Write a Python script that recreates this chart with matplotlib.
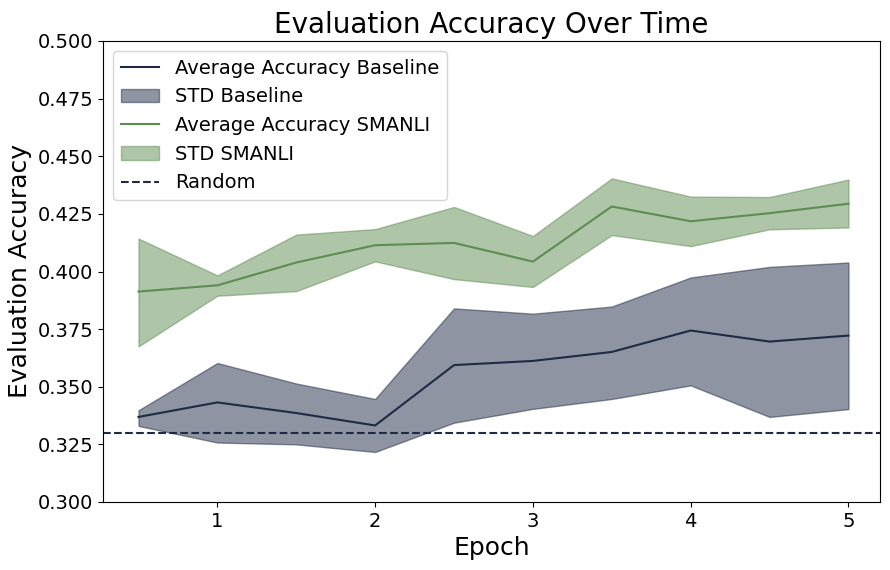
import matplotlib
matplotlib.use("Agg")
import matplotlib.pyplot as plt
import numpy as np

epochs = [0.5, 1.0, 1.5, 2.0, 2.5, 3.0, 3.5, 4.0, 4.5, 5.0]

baseline_mean = [0.3369, 0.3432, 0.3386, 0.3332, 0.3594, 0.3612, 0.3651, 0.3744, 0.3696, 0.3722]
baseline_upper = [0.3398, 0.3603, 0.3514, 0.3447, 0.3840, 0.3817, 0.3848, 0.3974, 0.4020, 0.4039]
baseline_lower = [0.3330, 0.3258, 0.3250, 0.3217, 0.3344, 0.3404, 0.3447, 0.3506, 0.3369, 0.3403]

smanli_mean = [0.3913, 0.3940, 0.4039, 0.4114, 0.4124, 0.4043, 0.4282, 0.4218, 0.4253, 0.4294]
smanli_upper = [0.4143, 0.3983, 0.4160, 0.4184, 0.4280, 0.4154, 0.4404, 0.4325, 0.4323, 0.4399]
smanli_lower = [0.3675, 0.3895, 0.3915, 0.4044, 0.3967, 0.3933, 0.4158, 0.4110, 0.4183, 0.4191]

random_level = 0.33

base_color = "#1f2b44"
smanli_color = "#5f8c52"

fig = plt.figure(figsize=(8.9, 5.7), dpi=100)
ax = fig.add_axes([103/890, 1 - 502/570, (880-103)/890, (502-41)/570])

ax.plot(epochs, baseline_mean, color=base_color, lw=1.5, label="Average Accuracy Baseline")
ax.fill_between(epochs, baseline_lower, baseline_upper, color=base_color, alpha=0.5, label="STD Baseline")
ax.plot(epochs, smanli_mean, color=smanli_color, lw=1.5, label="Average Accuracy SMANLI")
ax.fill_between(epochs, smanli_lower, smanli_upper, color=smanli_color, alpha=0.5, label="STD SMANLI")
ax.axhline(random_level, color=base_color, ls="--", lw=1.5, label="Random")

ax.set_ylim(0.3, 0.5)
ax.set_xlim(0.275, 5.2)
ax.set_xticks([1, 2, 3, 4, 5])
ax.set_yticks(np.arange(0.3, 0.5001, 0.025))
ax.set_yticklabels([f"{v:.3f}" for v in np.arange(0.3, 0.5001, 0.025)])
ax.tick_params(labelsize=14)
ax.set_xlabel("Epoch", fontsize=18)
ax.set_ylabel("Evaluation Accuracy", fontsize=18)
ax.set_title("Evaluation Accuracy Over Time", fontsize=20)
ax.legend(loc="upper left", fontsize=14)

fig.savefig("out.png", dpi=100)
